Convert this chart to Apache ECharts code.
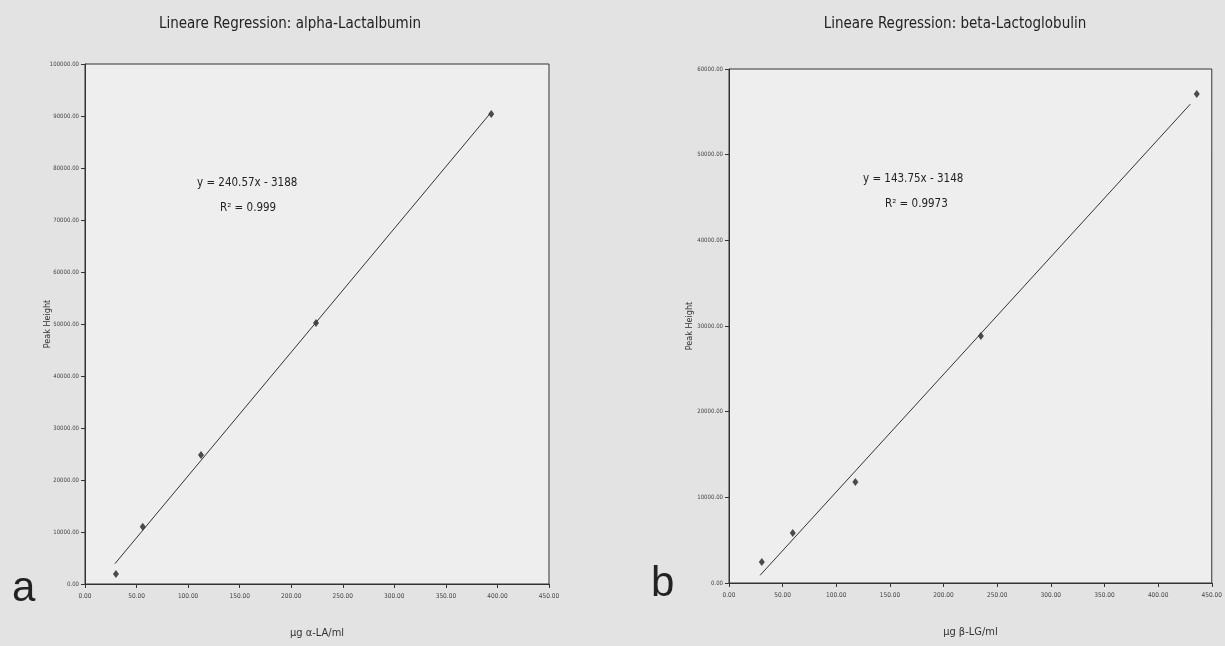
<!DOCTYPE html>
<html>
  <head>
    <meta charset="UTF-8">
    <title>Lineare Regression</title>
    <script src="https://cdn.jsdelivr.net/npm/echarts@6/dist/echarts.min.js"></script>
    <style>
      body { margin: 0; background: #e3e3e3; }
    </style>
  </head>
  <body>
    <div id="myChart" style="width: 1225px;height:646px;"></div>
    <script type="text/javascript">
    // alpha-Lactalbumin (a)
    var xA = [30, 56, 112.5, 224, 394];
    var yA = [1900, 11000, 24800, 50200, 90400];
    var lineAX = [29, 393];
    var lineAY = [3900, 90500];
    // beta-Lactoglobulin (b)
    var xB = [30.6, 59.4, 117.8, 234.8, 436];
    var yB = [2450, 5840, 11790, 28830, 57070];
    var lineBX = [29, 430];
    var lineBY = [900, 55900];

    var narrow = "'Liberation Sans Narrow', 'DejaVu Sans Condensed', 'Liberation Sans', sans-serif";
    var ink = '#333';

    function pairs(xs, ys) {
      return xs.map(function (x, i) { return [x, ys[i]]; });
    }

    function xAxis(idx, name) {
      return {
        gridIndex: idx, type: 'value', min: 0, max: 450, interval: 50,
        name: name, nameLocation: 'middle', nameGap: 44,
        nameTextStyle: { fontFamily: narrow, fontSize: 11, color: ink },
        axisLine: { lineStyle: { color: ink, width: 1 } },
        axisTick: { show: true, length: 4, lineStyle: { color: ink } },
        axisLabel: { fontFamily: narrow, fontSize: 6.5, color: '#444', margin: 9,
          formatter: function (v) { return v.toFixed(2); } },
        splitLine: { show: false }
      };
    }

    function yAxis(idx, max, interval, gap) {
      return {
        gridIndex: idx, type: 'value', min: 0, max: max, interval: interval,
        name: 'Peak Height', nameLocation: 'middle', nameGap: gap, nameRotate: 90,
        nameMoveOverlap: false,
        nameTextStyle: { fontFamily: narrow, fontSize: 9, color: ink },
        axisLine: { show: true, lineStyle: { color: ink, width: 1 } },
        axisTick: { show: true, length: 4, lineStyle: { color: ink } },
        axisLabel: { fontFamily: narrow, fontSize: 6, color: '#444', margin: 6,
          formatter: function (v) { return v.toFixed(2); } },
        splitLine: { show: false }
      };
    }

    var myChart = echarts.init(document.getElementById('myChart'));

    var option = {
      backgroundColor: '#e3e3e3',
      animation: false,
      title: [
        { text: 'Lineare Regression: alpha-Lactalbumin', left: 285, top: 12, textAlign: 'center',
          textStyle: { fontFamily: narrow, fontSize: 15, fontWeight: 'normal', color: '#222' } },
        { text: 'Lineare Regression: beta-Lactoglobulin', left: 950, top: 12, textAlign: 'center',
          textStyle: { fontFamily: narrow, fontSize: 15, fontWeight: 'normal', color: '#222' } }
      ],
      grid: [
        { left: 85, top: 64, width: 464, height: 520, show: true,
          backgroundColor: '#eeeeee', borderColor: ink, borderWidth: 1 },
        { left: 729, top: 69, width: 485, height: 514, show: true,
          backgroundColor: '#eeeeee', borderColor: ink, borderWidth: 1 }
      ],
      xAxis: [xAxis(0, 'µg α-LA/ml'), xAxis(1, 'µg β-LG/ml')],
      yAxis: [yAxis(0, 100000, 10000, 33), yAxis(1, 60000, 10000, 35)],
      series: [
        { type: 'line', xAxisIndex: 0, yAxisIndex: 0, data: pairs(lineAX, lineAY),
          symbol: 'none', lineStyle: { color: ink, width: 1 } },
        { type: 'scatter', xAxisIndex: 0, yAxisIndex: 0, data: pairs(xA, yA),
          symbol: 'diamond', symbolSize: [6, 8], itemStyle: { color: '#222' } },
        { type: 'line', xAxisIndex: 1, yAxisIndex: 1, data: pairs(lineBX, lineBY),
          symbol: 'none', lineStyle: { color: ink, width: 1 } },
        { type: 'scatter', xAxisIndex: 1, yAxisIndex: 1, data: pairs(xB, yB),
          symbol: 'diamond', symbolSize: [6, 8], itemStyle: { color: '#222' } }
      ],
      graphic: [
        { type: 'text', left: 197, top: 177,
          style: { text: 'y = 240.57x - 3188', font: '11.5px ' + narrow, fill: '#222' } },
        { type: 'text', left: 220, top: 202,
          style: { text: 'R² = 0.999', font: '11.5px ' + narrow, fill: '#222' } },
        { type: 'text', left: 863, top: 173,
          style: { text: 'y = 143.75x - 3148', font: '11.5px ' + narrow, fill: '#222' } },
        { type: 'text', left: 885, top: 198,
          style: { text: 'R² = 0.9973', font: '11.5px ' + narrow, fill: '#222' } },
        { type: 'text', left: 12, top: 568,
          style: { text: 'a', font: '42px Arial, "Liberation Sans", sans-serif', fill: '#222' } },
        { type: 'text', left: 651, top: 563,
          style: { text: 'b', font: '42px Arial, "Liberation Sans", sans-serif', fill: '#222' } }
      ]
    };

    myChart.setOption(option);
    </script>
  </body>
</html>
